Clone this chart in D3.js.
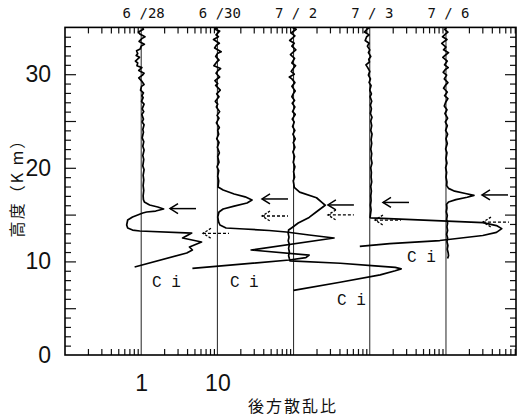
<!DOCTYPE html>
<html><head><meta charset="utf-8">
<script src="https://cdn.jsdelivr.net/npm/d3@7/dist/d3.min.js"></script>
<style>
html,body{margin:0;padding:0;background:#fff;}
svg{display:block;}
</style></head>
<body>
<svg id="chart" width="523" height="417"></svg>
<script>
// ---------------- data ----------------
const dates = ["6 /28", "6 /30", "7 / 2", "7 / 3", "7 / 6"];
const baselines = [1, 10, 100, 1000, 10000];   // offset of each profile on the log axis
const xTickLabels = [1, 10];
const yTickLabels = [0, 10, 20, 30];

// [altitude km, backscatter ratio]
const p0628 = [[35.0,1.04],[34.8,1.07],[34.5,0.92],[34.3,0.96],[34.0,1.12],[33.8,1.02],[33.5,0.94],[33.2,1.10],[33.0,1.0],[32.7,0.97],[32.5,0.87],[32.2,0.90],[32.0,0.86],[31.8,0.95],[31.4,0.84],[31.2,0.90],[30.9,0.88],[30.7,1.02],[30.4,0.93],[30.1,1.09],[29.9,1.04],[29.6,0.93],[29.2,1.03],[28.9,1.09],[28.7,1.01],[28.3,0.98],[28.0,1.07],[27.7,1.02],[27.5,1.06],[27.1,1.01],[26.8,1.09],[26.3,1.03],[26.0,1.08],[25.7,1.02],[25.2,1.07],[24.9,1.03],[24.6,1.09],[24.1,1.05],[23.8,1.07],[23.2,1.03],[22.8,1.08],[22.3,1.05],[21.9,1.09],[21.3,1.05],[20.9,1.08],[20.2,1.05],[19.8,1.09],[19.2,1.06],[18.7,1.08],[18.1,1.06],[17.6,1.08],[17.0,1.06],[16.6,1.07],[16.35,1.1],[16.03,1.29],[15.81,1.65],[15.6,1.97],[15.38,1.55],[15.28,1.18],[15.17,1.05],[14.74,0.77],[14.42,0.665],[13.89,0.645],[13.57,0.665],[13.35,0.77],[13.25,0.96],[13.03,4.6],[12.5,3.5],[12.07,6.2],[11.54,4.3],[11.22,4.7],[10.9,3.96],[9.4,0.82]];

const p0630 = [[35.0,1.0],[34.8,0.93],[34.6,1.07],[34.2,0.96],[34.0,1.03],[33.7,0.89],[33.3,1.06],[33.1,0.97],[32.8,0.92],[32.4,1.12],[32.2,1.0],[31.9,0.95],[31.5,1.05],[31.3,0.98],[30.9,0.90],[30.6,1.10],[30.4,1.02],[30.1,0.96],[29.7,1.07],[29.3,0.93],[29.0,1.01],[28.8,0.95],[28.3,1.09],[27.9,0.98],[27.6,1.05],[27.1,0.94],[26.8,1.01],[26.5,0.97],[26.0,1.07],[25.6,0.99],[25.3,1.05],[24.8,0.97],[24.3,1.06],[24.0,1.01],[23.6,1.04],[23.1,0.98],[22.7,1.05],[22.2,1.0],[21.6,1.06],[21.2,1.01],[20.6,1.05],[20.1,0.99],[19.7,1.04],[19.1,1.01],[18.6,1.04],[17.95,1.02],[17.63,1.19],[17.2,1.66],[16.9,2.31],[16.56,2.85],[16.24,2.45],[15.9,1.66],[15.6,1.19],[15.28,1.05],[14.74,1.01],[14.2,1.04],[13.89,1.08],[13.57,1.3],[13.46,2.25],[13.3,4.77],[13.14,8.0],[12.82,16],[12.5,34],[11.22,2.77],[10.68,16],[10.4,14.5],[10.15,8.8],[9.26,0.47]];

const p0702 = [[35.0,0.97],[34.8,1.08],[34.4,0.93],[34.1,1.04],[33.9,0.98],[33.6,0.89],[33.3,1.02],[33.0,0.95],[32.6,1.07],[32.3,0.97],[32.1,0.91],[31.7,1.03],[31.2,0.95],[30.9,1.06],[30.6,0.99],[30.3,0.93],[30.0,1.02],[29.7,0.88],[29.5,0.95],[29.1,1.04],[28.7,0.95],[28.2,1.05],[27.9,0.99],[27.6,0.95],[27.2,1.03],[26.9,0.96],[26.5,1.04],[26.0,0.97],[25.7,1.05],[25.2,0.96],[24.9,1.02],[24.4,0.97],[24.0,1.04],[23.6,0.98],[23.1,1.05],[22.7,0.99],[22.2,1.04],[21.7,0.98],[21.2,1.03],[20.6,0.99],[20.1,1.04],[19.6,1.0],[19.0,1.03],[18.6,0.99],[18.2,1.01],[17.9,1.02],[17.4,1.2],[16.8,2.0],[16.3,2.35],[16.0,2.6],[15.3,2.0],[14.7,1.6],[14.1,1.15],[13.6,0.95],[13.35,0.86],[13.0,0.85],[12.6,0.87],[12.2,0.85],[11.8,0.88],[11.4,0.86],[11.0,0.88],[10.6,0.86],[10.3,0.88],[10.05,0.9],[9.8,4.1],[9.52,11.7],[9.36,21.6],[9.2,25.8],[9.0,21.6],[8.56,13.7],[7.77,4.07],[6.9,1.0]];

const p0703 = [[35.0,1.0],[34.8,0.92],[34.5,0.85],[34.2,0.98],[34.0,0.91],[33.6,0.87],[33.3,0.98],[33.0,0.93],[32.6,1.0],[32.3,0.96],[31.9,1.03],[31.6,0.97],[31.3,0.99],[31.0,0.89],[30.7,0.94],[30.3,1.0],[29.9,0.96],[29.5,1.02],[29.1,0.98],[28.8,1.04],[28.3,1.0],[27.9,1.05],[27.6,1.01],[27.1,1.06],[26.7,1.02],[26.3,1.05],[25.8,1.02],[25.4,1.07],[25.0,1.03],[24.5,1.06],[24.0,1.03],[23.6,1.07],[23.0,1.04],[22.6,1.06],[22.0,1.03],[21.5,1.06],[21.0,1.04],[20.5,1.07],[20.0,1.03],[19.5,1.05],[19.0,1.04],[18.5,1.06],[18.0,1.03],[17.5,1.05],[17.0,1.03],[16.5,1.04],[16.0,1.02],[15.5,1.04],[15.0,1.02],[14.7,1.01],[14.64,1.03],[14.15,30.4],[13.83,46],[13.5,54],[13.1,46],[12.77,30.4],[12.23,8.3],[11.9,1.83],[11.6,0.74]];

const p0706 = [[35.0,1.02],[34.8,0.96],[34.5,1.06],[34.3,0.99],[34.0,0.90],[33.7,1.03],[33.5,0.95],[33.3,0.88],[32.9,1.0],[32.6,0.93],[32.3,1.08],[32.0,0.97],[31.8,0.91],[31.4,1.04],[31.0,0.96],[30.7,1.07],[30.5,0.98],[30.2,0.92],[29.9,1.02],[29.5,0.95],[29.1,1.06],[28.8,0.98],[28.5,0.93],[28.1,1.04],[27.7,0.96],[27.4,1.06],[27.0,0.99],[26.6,0.95],[26.2,1.03],[25.8,0.97],[25.3,1.05],[24.9,0.98],[24.5,1.04],[24.0,0.99],[23.6,1.05],[23.1,1.0],[22.6,1.04],[22.0,0.99],[21.6,1.03],[21.0,1.0],[20.5,1.03],[20.0,0.99],[19.5,1.02],[19.0,1.0],[18.5,1.03],[18.1,1.02],[17.8,1.08],[17.5,1.3],[17.25,1.8],[17.05,2.33],[16.85,1.9],[16.6,1.35],[16.35,1.08],[16.1,1.02],[15.7,1.03],[15.3,1.01],[14.9,1.04],[14.5,1.02],[14.1,1.05],[13.7,1.03],[13.3,1.05],[12.9,1.02],[12.5,1.05],[12.1,1.03],[11.7,1.06],[11.3,1.04],[10.9,1.07],[10.6,1.08],[10.3,1.05]];

const profiles = [p0628, p0630, p0702, p0703, p0706];

// arrows: [profile index, altitude km, tip ratio]
const solidArrows  = [[0,15.64,2.39],[1,16.67,3.85],[2,16.03,2.82],[3,16.3,1.49],[4,17.1,2.97]];
const dashedArrows = [[0,13.0,6.47],[1,14.85,3.85],[2,14.96,2.82],[3,14.42,1.17],[4,14.2,3.06]];

// cirrus labels: [profile index, altitude km, ratio]
const ciLabels = [[0,7.26,1.39],[1,7.26,1.46],[2,5.34,3.72],[3,9.94,3.08]];

// ---------------- drawing ----------------
const svg = d3.select("#chart");
const L = 65, R = 516, T = 27.4, B = 355;
const x = d3.scaleLog().domain([0.1, 83000]).range([L, R]);
const y = d3.scaleLinear().domain([0, 35]).range([B, T]);

const minorX = x.ticks().filter(v => {
  const m = Math.round(v / Math.pow(10, Math.floor(Math.log10(v) + 1e-9)));
  return m !== 1;
});
const minorY = d3.range(1, 35).filter(v => v % 5 !== 0);
const midY = [5, 10, 15, 20, 25, 30];

function styleAxis(g) {
  g.select(".domain").remove();
  g.selectAll(".tick line").attr("stroke", "#111").attr("stroke-width", 1.2);
}

// bottom / top minor ticks
svg.append("g").attr("transform", `translate(0,${B})`)
  .call(d3.axisBottom(x).tickValues(minorX).tickSize(-6).tickFormat(""))
  .call(styleAxis);
svg.append("g").attr("transform", `translate(0,${T})`)
  .call(d3.axisTop(x).tickValues(minorX).tickSize(-6).tickFormat(""))
  .call(styleAxis);

// left / right ticks
svg.append("g").attr("transform", `translate(${L},0)`)
  .call(d3.axisLeft(y).tickValues(minorY).tickSize(-6).tickFormat(""))
  .call(styleAxis);
svg.append("g").attr("transform", `translate(${L},0)`)
  .call(d3.axisLeft(y).tickValues(midY).tickSize(-11).tickFormat(""))
  .call(styleAxis);
svg.append("g").attr("transform", `translate(${R},0)`)
  .call(d3.axisRight(y).tickValues(minorY).tickSize(-6).tickFormat(""))
  .call(styleAxis);
svg.append("g").attr("transform", `translate(${R},0)`)
  .call(d3.axisRight(y).tickValues(midY).tickSize(-11).tickFormat(""))
  .call(styleAxis);

// y tick labels
const yl = svg.append("g").attr("transform", `translate(${L},0)`)
  .call(d3.axisLeft(y).tickValues(yTickLabels).tickSize(0).tickPadding(14).tickFormat(d3.format("d")));
yl.select(".domain").remove();
yl.selectAll("text").attr("font-family", "'Liberation Sans Narrow','Arial Narrow',sans-serif")
  .attr("font-size", 23).attr("fill", "#111");

// x tick labels
const xl = svg.append("g").attr("transform", `translate(0,${B})`)
  .call(d3.axisBottom(x).tickValues(xTickLabels).tickSize(0).tickPadding(20).tickFormat(d3.format("d")));
xl.select(".domain").remove();
xl.selectAll("text").attr("font-family", "'Liberation Sans Narrow','Arial Narrow',sans-serif")
  .attr("font-size", 23).attr("fill", "#111");

// date labels on top
const dl = svg.append("g").attr("transform", `translate(0,${T})`)
  .call(d3.axisTop(x).tickValues(baselines).tickSize(0).tickPadding(9).tickFormat((d, i) => dates[i]));
dl.select(".domain").remove();
dl.selectAll("text").attr("font-family", "'DejaVu Sans Mono',monospace")
  .attr("font-size", 14).attr("fill", "#111").attr("dx", 2);

// baseline vertical lines
svg.append("g").selectAll("line").data(baselines).join("line")
  .attr("x1", d => x(d)).attr("x2", d => x(d))
  .attr("y1", y(0)).attr("y2", y(35))
  .attr("stroke", "#222").attr("stroke-width", 1);

// profiles
const line = d3.line().curve(d3.curveLinear);
svg.append("g").selectAll("path").data(profiles).join("path")
  .attr("d", (p, i) => line(p.map(d => [x(d[1] * baselines[i]), y(d[0])])))
  .attr("fill", "none").attr("stroke", "#000").attr("stroke-width", 1.7)
  .attr("stroke-linejoin", "round");

// arrows
function drawArrows(data, dashed) {
  const g = svg.append("g").attr("stroke", "#000").attr("fill", "none")
    .attr("stroke-width", dashed ? 1.3 : 1.5);
  if (dashed) g.attr("stroke-dasharray", "3,2");
  data.forEach(a => {
    const tx = x(a[2] * baselines[a[0]]), ty = y(a[1]);
    g.append("line").attr("x1", tx).attr("y1", ty).attr("x2", tx + 26).attr("y2", ty);
    g.append("path").attr("d", `M${tx + 8},${ty - 5}L${tx},${ty}L${tx + 8},${ty + 5}`)
      .attr("stroke-dasharray", dashed ? "2.5,1.5" : null);
  });
}
drawArrows(solidArrows, false);
drawArrows(dashedArrows, true);

// Ci labels
svg.append("g").selectAll("text").data(ciLabels).join("text")
  .attr("x", d => x(d[2] * baselines[d[0]])).attr("y", d => y(d[1]))
  .attr("font-family", "'Liberation Mono',monospace").attr("font-size", 16)
  .attr("fill", "#111").text("C i");

// frame
svg.append("rect").attr("x", L).attr("y", T).attr("width", R - L).attr("height", B - T)
  .attr("fill", "none").attr("stroke", "#000").attr("stroke-width", 1.6);

// axis titles
svg.append("text").attr("transform", `translate(16,184) rotate(-90)`)
  .attr("text-anchor", "middle").attr("dominant-baseline", "central")
  .attr("font-family", "'Noto Sans CJK JP',sans-serif").attr("font-size", 16)
  .attr("letter-spacing", 2).attr("fill", "#111").text("高度（K m）");
svg.append("text").attr("x", 293).attr("y", 412).attr("text-anchor", "middle")
  .attr("font-family", "'Noto Sans CJK JP',sans-serif").attr("font-size", 16)
  .attr("letter-spacing", 2).attr("fill", "#111").text("後方散乱比");
</script>
</body></html>
